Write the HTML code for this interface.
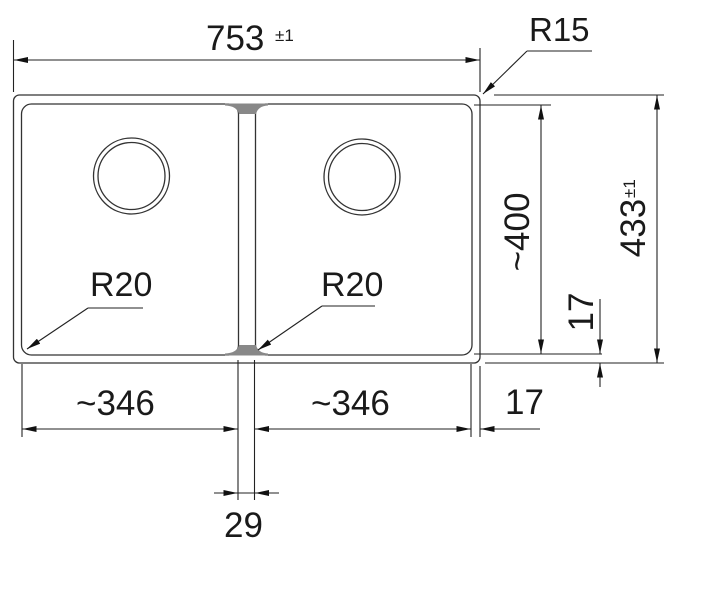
<!DOCTYPE html>
<html><head><meta charset="utf-8"><style>
html,body{margin:0;padding:0;background:#fff;width:701px;height:589px;overflow:hidden}
text{font-family:"Liberation Sans",Arial,sans-serif;fill:#1a1a1a}
</style></head><body>
<svg width="701" height="589" viewBox="0 0 701 589" xmlns="http://www.w3.org/2000/svg">
<defs>
<marker id="a" viewBox="0 0 14 6" refX="14" refY="3" markerWidth="14" markerHeight="6" markerUnits="userSpaceOnUse" orient="auto">
<path d="M0,0 L14,3 L0,6 z" fill="#111"/></marker>
</defs>
<g fill="none" stroke="#333" stroke-width="1.3">
<rect x="13.5" y="95" width="466.5" height="268" rx="6"/>
<rect x="21.5" y="104" width="217" height="251" rx="10"/>
<rect x="255.5" y="104" width="216.5" height="251" rx="10"/>
<circle cx="131.5" cy="176" r="38"/>
<circle cx="131.5" cy="176" r="33.5"/>
<circle cx="362" cy="177" r="38"/>
<circle cx="362" cy="177" r="33.5"/>
</g>
<path d="M225,103.5 L268,103.5 L268,105.5 Q258,106 256,114 L239,114 Q237,106 225,105.5 Z" fill="#888"/>
<path d="M225,355.5 L268,355.5 L268,353.5 Q258,353 256,345 L239,345 Q237,353 225,353.5 Z" fill="#888"/>
<g fill="none" stroke="#222" stroke-width="1.1">
<line x1="13.5" y1="40" x2="13.5" y2="92"/>
<line x1="480" y1="48" x2="480" y2="92"/>
<line x1="240" y1="60" x2="14" y2="60" marker-end="url(#a)"/>
<line x1="240" y1="60" x2="479.5" y2="60" marker-end="url(#a)"/>
<line x1="592" y1="51" x2="527" y2="51"/>
<line x1="527" y1="51" x2="483" y2="94" marker-end="url(#a)"/>
<line x1="474" y1="105" x2="551" y2="105"/>
<line x1="474" y1="354" x2="602" y2="354"/>
<line x1="541" y1="230" x2="541" y2="105.5" marker-end="url(#a)"/>
<line x1="541" y1="230" x2="541" y2="353.5" marker-end="url(#a)"/>
<line x1="494" y1="95" x2="664" y2="95"/>
<line x1="485" y1="363" x2="664" y2="363"/>
<line x1="657" y1="230" x2="657" y2="95.5" marker-end="url(#a)"/>
<line x1="657" y1="230" x2="657" y2="362.5" marker-end="url(#a)"/>
<line x1="600" y1="299" x2="600" y2="353.5" marker-end="url(#a)"/>
<line x1="600" y1="387" x2="600" y2="363.5" marker-end="url(#a)"/>
<line x1="22" y1="364" x2="22" y2="437"/>
<line x1="238" y1="360" x2="238" y2="500"/>
<line x1="254.5" y1="360" x2="254.5" y2="500"/>
<line x1="471" y1="364" x2="471" y2="437"/>
<line x1="480" y1="366" x2="480" y2="437"/>
<line x1="130" y1="429" x2="22.5" y2="429" marker-end="url(#a)"/>
<line x1="130" y1="429" x2="237.5" y2="429" marker-end="url(#a)"/>
<line x1="360" y1="429" x2="255" y2="429" marker-end="url(#a)"/>
<line x1="360" y1="429" x2="470.5" y2="429" marker-end="url(#a)"/>
<line x1="540" y1="429" x2="480.5" y2="429" marker-end="url(#a)"/>
<line x1="214" y1="493" x2="237.5" y2="493" marker-end="url(#a)"/>
<line x1="279" y1="493" x2="255" y2="493" marker-end="url(#a)"/>
<line x1="238" y1="493" x2="254.5" y2="493"/>
<line x1="143" y1="308" x2="88" y2="308"/>
<line x1="88" y1="308" x2="27" y2="349" marker-end="url(#a)"/>
<line x1="375" y1="306" x2="322" y2="306"/>
<line x1="322" y1="306" x2="258" y2="350" marker-end="url(#a)"/>
</g>
<text x="206" y="50" font-size="35">753</text>
<text x="275" y="41" font-size="17">±1</text>
<text x="529" y="41" font-size="33">R15</text>
<text x="90" y="296" font-size="34">R20</text>
<text x="321" y="296" font-size="34">R20</text>
<text x="76" y="415" font-size="35">~346</text>
<text x="311" y="415" font-size="35">~346</text>
<text x="505" y="414" font-size="35">17</text>
<text x="224" y="537" font-size="35">29</text>
<text transform="translate(529,232) rotate(-90)" text-anchor="middle" font-size="35">~400</text>
<text transform="translate(645,228) rotate(-90)" text-anchor="middle" font-size="35">433</text>
<text transform="translate(635,198) rotate(-90)" font-size="17">±1</text>
<text transform="translate(593,312) rotate(-90)" text-anchor="middle" font-size="35">17</text>
</svg>
</body></html>
